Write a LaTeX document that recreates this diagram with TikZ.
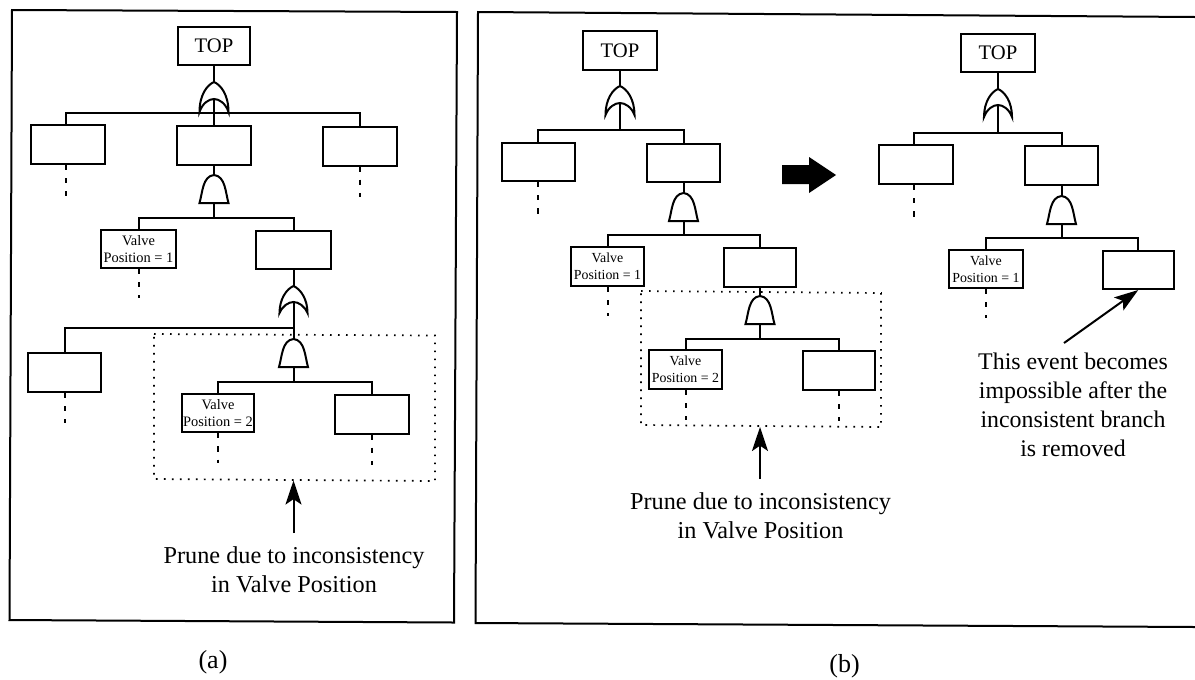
\documentclass[tikz,border=0pt]{standalone}
\usepackage{fontspec}
\setmainfont{Liberation Serif}
\usetikzlibrary{arrows.meta}
\tikzset{
  evt/.style={draw,line width=1.5pt,fill=white,inner sep=0pt,align=center},
  wire/.style={line width=1.5pt},
  gateline/.style={line width=1.5pt,fill=white},
  stubline/.style={line width=1.5pt,dash pattern=on 3.9pt off 6pt},
  dotbox/.style={line width=1.3pt,dash pattern=on 1.3pt off 4.7pt},
  frameline/.style={line width=1.5pt},
  ptr/.style={line width=1.5pt,-{Stealth[length=18pt,width=12pt,inset=4pt]}},
  caption/.style={inner sep=0pt,align=center,font=\fontsize{18.2}{21.75}\selectfont},
  notetext/.style={inner sep=0pt,align=center,font=\fontsize{17.9}{21.75}\selectfont},
  panelmark/.style={inner sep=0pt,font=\fontsize{19.5}{22}\selectfont},
  valve/.style={font=\fontsize{10.8}{13}\selectfont},
  valvenarrow/.style={font=\fontsize{10.4}{13}\selectfont},
  toptext/.style={font=\fontsize{15.5}{18}\selectfont},
}
% \evbox{name}{x1}{y1}{x2}{y2}{style}{text}
\newcommand{\evbox}[7]{%
  \pgfmathsetmacro{\boxw}{0.75*(#4-#2)}\pgfmathsetmacro{\boxh}{0.75*(#5-#3)}%
  \node[evt,#6,minimum width=\boxw pt,minimum height=\boxh pt] (#1) at ({(#2+#4)/2},{(#3+#5)/2}) {#7};}
% \orgate{name}{cx}{top}{peak}{base}{halfwidth}
\newcommand{\orgate}[6]{%
  \draw[gateline] (#2-#6,#5) .. controls (#2-#6,#3+13) and (#2-7,#3+3) .. (#2,#3)
     .. controls (#2+7,#3+3) and (#2+#6,#3+13) .. (#2+#6,#5)
     .. controls (#2+#6-3,#4+4) and (#2+5,#4) .. (#2,#4)
     .. controls (#2-5,#4) and (#2-#6+3,#4+4) .. (#2-#6,#5) -- cycle;
  \coordinate (#1-t) at (#2,#3);\coordinate (#1-p) at (#2,#4);}
% \andgate{name}{cx}{top}{base}{halfwidth}
\newcommand{\andgate}[5]{%
  \draw[gateline] (#2-#5,#4) .. controls (#2-#5+3,#4-10) and (#2-#5+3,#3+1) .. (#2,#3)
     .. controls (#2+#5-3,#3+1) and (#2+#5-3,#4-10) .. (#2+#5,#4) -- cycle;
  \coordinate (#1-t) at (#2,#3);\coordinate (#1-b) at (#2,#4);}
\begin{document}
\begin{tikzpicture}[x=0.75pt,y=-0.75pt]
\useasboundingbox (0,0) rectangle (1195,679);
\fill[white] (0,0) rectangle (1195,679);

% ---------- panel (a) ----------
\draw[frameline] (12,10) -- (457,12) -- (454,622.5) -- (9.5,620) -- cycle;
\evbox{aTop}{178}{27}{250}{65}{toptext}{TOP}
\evbox{aL}{31}{125}{105}{164}{}{}
\evbox{aC}{177}{126}{251}{165}{}{}
\evbox{aR}{323}{127}{397}{165.5}{}{}
\evbox{aV}{101}{230}{176}{268}{valve}{Valve\\Position = 1}
\evbox{aM}{256}{231}{331}{269}{}{}
\evbox{aE}{28}{353}{101}{392}{}{}
\evbox{aV2}{182}{394}{254}{432}{valve,line width=1.8pt}{Valve\\Position = 2}
\evbox{aF}{335}{395}{409}{433.5}{}{}

\draw[dotbox] (154,334) -- (435,335.5) -- (435,481) -- (154,479) -- cycle;
\coordinate (aDot) at (293.5,480.5);

\orgate{aO}{214}{82}{99}{112}{14.5}
\andgate{aA}{214}{175}{203}{14.5}
\orgate{aO2}{293.5}{286}{302}{313}{14}
\andgate{aA2}{293.5}{339}{367}{14.5}

\coordinate (aBus1) at (214,112.5);
\coordinate (aBus2) at (214,218);
\coordinate (aBus3) at (293.5,327.5);
\coordinate (aBus4) at (293.5,381.5);

\draw[wire] (aTop.south) -- (aO-t);
\draw[wire] (aO-p) -- (aBus1);
\draw[wire] (aBus1) -- (aC.north);
\draw[wire] (aBus1) -| ([xshift=-1.5pt]aL.north);
\draw[wire] (aBus1) -| (aR.north);
\draw[wire] (aC.south) -- (aA-t);
\draw[wire] (aA-b) -- (aBus2);
\draw[wire] (aBus2) -| (aV.north);
\draw[wire] (aBus2) -| (aM.north);
\draw[wire] (aM.south) -- (aO2-t);
\draw[wire] (aO2-p) -- (aBus3);
\draw[wire] (aBus3) -| (aE.north);
\draw[wire] (aBus3) -- (aA2-t);
\draw[wire] (aA2-b) -- (aBus4);
\draw[wire] (aBus4) -| (aV2.north);
\draw[wire] (aBus4) -| (aF.north);

\draw[stubline] ([xshift=-1.5pt]aL.south) -- ++(0,31);
\draw[stubline] (aR.south) -- ++(0,30);
\draw[stubline] (aV.south) -- ++(0,29);
\draw[stubline] (aE.south) -- ++(0,30);
\draw[stubline] (aV2.south) -- ++(0,30);
\draw[stubline] (aF.south) -- ++(0,30);

\coordinate (aTail) at (293.5,533);
\draw[ptr] (aTail) -- (aDot);
\node[caption] (aText) at (294,570) {Prune due to inconsistency\\in Valve Position};
\node[panelmark] (aCap) at (213,662) {(a)};

% ---------- panel (b) ----------
\draw[frameline] (1195,17) -- (478,12) -- (475.5,623) -- (1195,627);

% left tree
\evbox{bTop}{583}{31}{657}{70}{toptext}{TOP}
\evbox{bL}{502}{143}{574.5}{181}{}{}
\evbox{bC}{647}{144}{720}{182}{}{}
\evbox{bV}{571}{247}{644}{286}{valvenarrow}{Valve\\Position = 1}
\evbox{bM}{724}{248}{796}{287}{}{}
\evbox{bV2}{649}{350}{722}{389}{valvenarrow}{Valve\\Position = 2}
\evbox{bF}{803}{351}{874.5}{390}{}{}

\draw[dotbox] (641,291) -- (881,293) -- (881,427) -- (641,425) -- cycle;
\coordinate (bDot) at (760,427);

\orgate{bO}{620}{86}{103}{115}{14.5}
\andgate{bA}{683.5}{193}{221}{14.5}
\andgate{bA2}{760}{296}{324}{14.5}

\coordinate (bBus1) at (620,130);
\coordinate (bBus2) at (683.5,235);
\coordinate (bBus3) at (760,338.5);

\draw[wire] (bTop.south) -- (bO-t);
\draw[wire] (bO-p) -- (bBus1);
\draw[wire] (bBus1) -| (bL.north);
\draw[wire] (bBus1) -| (bC.north);
\draw[wire] (bC.south) -- (bA-t);
\draw[wire] (bA-b) -- (bBus2);
\draw[wire] (bBus2) -| (bV.north);
\draw[wire] (bBus2) -| (bM.north);
\draw[wire] (bM.south) -- (bA2-t);
\draw[wire] (bA2-b) -- (bBus3);
\draw[wire] (bBus3) -| (bV2.north);
\draw[wire] (bBus3) -| (bF.north);

\draw[stubline] (bL.south) -- ++(0,32);
\draw[stubline] (bV.south) -- ++(0,29);
\draw[stubline] (bV2.south) -- ++(0,30);
\draw[stubline] (bF.south) -- ++(0,30);

\coordinate (bTail) at (760,479);
\draw[ptr] (bTail) -- (bDot);
\node[caption] (bText) at (760.5,516) {Prune due to inconsistency\\in Valve Position};
\node[panelmark] (bCap) at (844.5,666) {(b)};

% big arrow
\fill (782,165) -- (809,165) -- (809,157) -- (836,175) -- (809,193) -- (809,184) -- (782,184) -- cycle;

% right tree
\evbox{cTop}{961}{34}{1035}{72}{toptext}{TOP}
\evbox{cL}{879}{145}{953}{184}{}{}
\evbox{cC}{1025}{146}{1098}{185}{}{}
\evbox{cV}{949}{250}{1023}{288}{valvenarrow}{Valve\\Position = 1}
\evbox{cM}{1102.5}{251}{1174}{289}{}{}

\orgate{cO}{998}{89}{105}{117}{14}
\andgate{cA}{1061.5}{196}{224}{14.5}

\coordinate (cBus1) at (998,133);
\coordinate (cBus2) at (1061.5,238);

\draw[wire] (cTop.south) -- (cO-t);
\draw[wire] (cO-p) -- (cBus1);
\draw[wire] (cBus1) -| ([xshift=-1.5pt]cL.north);
\draw[wire] (cBus1) -| (cC.north);
\draw[wire] (cC.south) -- (cA-t);
\draw[wire] (cA-b) -- (cBus2);
\draw[wire] (cBus2) -| (cV.north);
\draw[wire] (cBus2) -| (cM.north);

\draw[stubline] ([xshift=-1.5pt]cL.south) -- ++(0,32);
\draw[stubline] (cV.south) -- ++(0,29);

\coordinate (cTail) at (1064,343);
\draw[ptr] (cTail) -- (cM.south);
\node[notetext] (cText) at (1073,405) {This event becomes\\impossible after the\\inconsistent branch\\is removed};
\end{tikzpicture}
\end{document}
